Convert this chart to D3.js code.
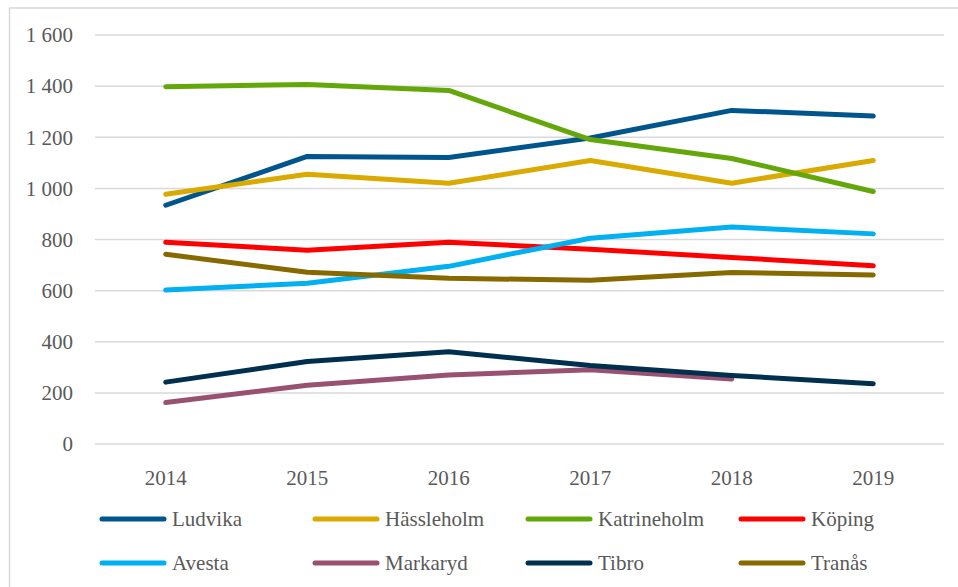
<!DOCTYPE html>
<html>
<head>
<meta charset="utf-8">
<script src="https://cdn.jsdelivr.net/npm/d3@7"></script>
<style>
  body { margin: 0; background: #fff; }
  text { font-family: "Liberation Serif", "DejaVu Serif", serif; fill: #595959; }
</style>
</head>
<body>
<script>
var years = ["2014", "2015", "2016", "2017", "2018", "2019"];
var y_ticks = [0, 200, 400, 600, 800, 1000, 1200, 1400, 1600];

var ludvika     = [934, 1125, 1121, 1197, 1305, 1283];
var hassleholm  = [977, 1055, 1020, 1109, 1020, 1109];
var katrineholm = [1398, 1406, 1383, 1191, 1117, 988];
var koping      = [789, 758, 789, 762, 730, 697];
var avesta      = [602, 629, 695, 805, 849, 822];
var markaryd    = [162, 230, 270, 290, 254, null];
var tibro       = [242, 323, 361, 307, 268, 236];
var tranas      = [742, 672, 648, 641, 671, 661];

var names  = ["Ludvika", "Hässleholm", "Katrineholm", "Köping", "Avesta", "Markaryd", "Tibro", "Tranås"];
var colors = ["#00558c", "#daaa00", "#64a70b", "#ff0000", "#00b0f0", "#985170", "#00304e", "#866a00"];

var series = [ludvika, hassleholm, katrineholm, koping, avesta, markaryd, tibro, tranas].map(function(vals, i) {
    return { name: names[i], color: colors[i], values: vals };
});

function draw_chart() {
    var width = 958, height = 587;
    var plot_left = 95, plot_right = 944, plot_top = 35, plot_bottom = 444;

    var svg = d3.select("body").append("svg")
        .attr("width", width).attr("height", height);

    // chart frame, only top and left edges are visible
    svg.append("rect")
        .attr("x", 9.5).attr("y", 8)
        .attr("width", 980).attr("height", 620)
        .attr("fill", "none").attr("stroke", "#d9d9d9").attr("stroke-width", 1.5);

    var x = d3.scalePoint().domain(years).range([plot_left, plot_right]).padding(0.5);
    var y = d3.scaleLinear().domain([0, 1600]).range([plot_bottom, plot_top]);

    // gridlines
    svg.append("g").selectAll("line")
        .data(y_ticks)
        .enter().append("line")
        .attr("x1", plot_left).attr("x2", plot_right)
        .attr("y1", function(d) { return y(d); })
        .attr("y2", function(d) { return y(d); })
        .attr("stroke", "#d9d9d9").attr("stroke-width", 1.5);

    var fmt = function(d) { return d3.format(",")(d).replace(",", " "); };

    svg.append("g").selectAll("text")
        .data(y_ticks)
        .enter().append("text")
        .attr("x", 73)
        .attr("y", function(d) { return y(d); })
        .attr("dy", "0.35em")
        .attr("text-anchor", "end")
        .style("font-size", "21px")
        .text(fmt);

    svg.append("g").selectAll("text")
        .data(years)
        .enter().append("text")
        .attr("x", function(d) { return x(d); })
        .attr("y", 485)
        .attr("text-anchor", "middle")
        .style("font-size", "21px")
        .text(function(d) { return d; });

    var line = d3.line()
        .defined(function(d) { return d != null; })
        .x(function(d, i) { return x(years[i]); })
        .y(function(d) { return y(d); });

    svg.append("g").selectAll("path")
        .data(series)
        .enter().append("path")
        .attr("fill", "none")
        .attr("stroke", function(d) { return d.color; })
        .attr("stroke-width", 5)
        .attr("stroke-linecap", "round")
        .attr("stroke-linejoin", "round")
        .attr("d", function(d) { return line(d.values); });

    // legend, 4 per row
    var legend = svg.append("g").selectAll("g")
        .data(series)
        .enter().append("g")
        .attr("transform", function(d, i) {
            return "translate(" + (102 + (i % 4) * 213) + "," + (519 + Math.floor(i / 4) * 44) + ")";
        });

    legend.append("line")
        .attr("x1", 0).attr("x2", 62)
        .attr("stroke", function(d) { return d.color; })
        .attr("stroke-width", 5)
        .attr("stroke-linecap", "round");

    legend.append("text")
        .attr("x", 70)
        .attr("dy", "0.35em")
        .style("font-size", "21px")
        .text(function(d) { return d.name; });
}

draw_chart();
</script>
</body>
</html>
